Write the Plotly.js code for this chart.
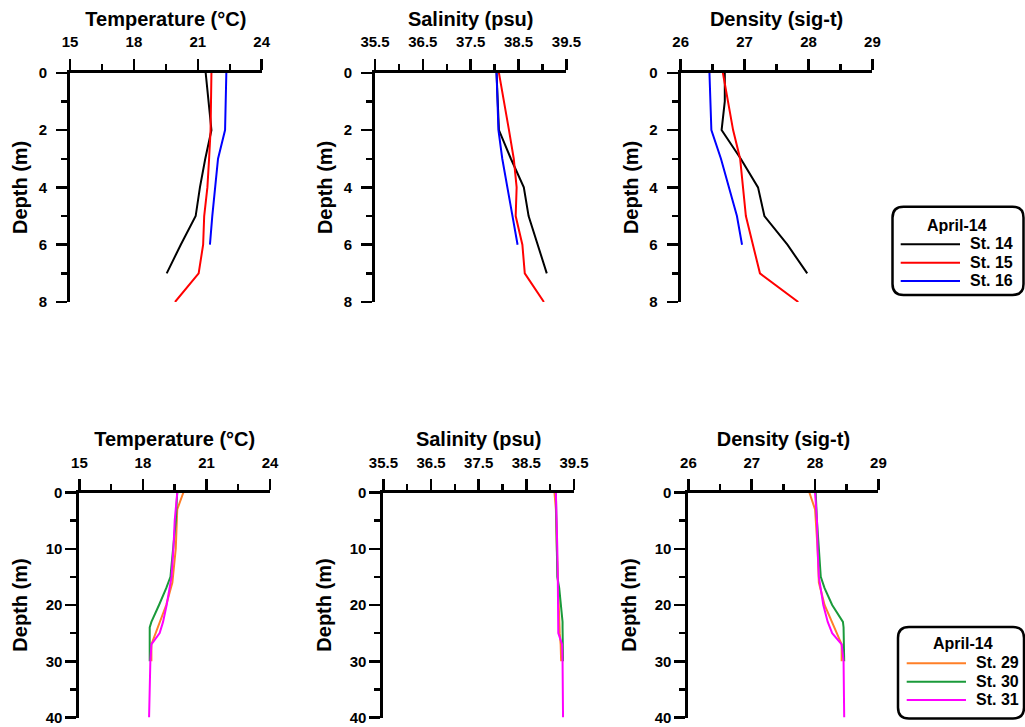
<!DOCTYPE html>
<html>
<head>
<meta charset="utf-8">
<script src="https://cdn.plot.ly/plotly-3.0.1.min.js"></script>
<style>html,body{margin:0;padding:0;background:#fff;}#chart{width:1025px;height:727px;}</style>
</head>
<body>
<div id="chart"></div>
<script>
// ---------- data ----------
const legendTitle = "April-14";
const topStations = ["St. 14", "St. 15", "St. 16"];
const bottomStations = ["St. 29", "St. 30", "St. 31"];

const depth14 = [0, 1, 2, 3, 4, 5, 6, 7];
const temp14 = [21.37, 21.5, 21.64, 21.35, 21.1, 20.9, 20.2, 19.54];
const sal14 = [38.04, 38.06, 38.09, 38.34, 38.61, 38.71, 38.9, 39.09];
const dens14 = [26.69, 26.69, 26.64, 26.94, 27.21, 27.31, 27.67, 27.98];

const depth15 = [0, 1, 2, 3, 4, 5, 6, 7, 8];
const temp15 = [21.64, 21.62, 21.6, 21.53, 21.45, 21.3, 21.25, 21.04, 19.93];
const sal15 = [38.09, 38.2, 38.3, 38.4, 38.46, 38.44, 38.58, 38.63, 39.03];
const dens15 = [26.66, 26.74, 26.82, 26.93, 26.98, 27.02, 27.13, 27.24, 27.84];

const depth16 = [0, 1, 2, 3, 4, 5, 6];
const temp16 = [22.34, 22.31, 22.28, 21.95, 21.8, 21.68, 21.57];
const sal16 = [38.04, 38.06, 38.08, 38.16, 38.27, 38.38, 38.48];
const dens16 = [26.45, 26.46, 26.48, 26.63, 26.76, 26.88, 26.96];

const depth29 = [0, 3, 10, 16, 20, 25, 27, 30];
const temp29 = [19.91, 19.62, 19.55, 19.39, 19.1, 18.6, 18.4, 18.4];
const sal29 = [39.09, 39.12, 39.14, 39.16, 39.18, 39.2, 39.22, 39.23];
const dens29 = [27.91, 28.0, 28.04, 28.06, 28.15, 28.34, 28.42, 28.42];

const depth30 = [0, 5, 15, 17, 20, 23, 24, 30];
const temp30 = [19.62, 19.55, 19.3, 19.1, 18.76, 18.4, 18.32, 18.32];
const sal30 = [39.12, 39.13, 39.15, 39.19, 39.23, 39.26, 39.26, 39.27];
const dens30 = [28.01, 28.03, 28.09, 28.15, 28.27, 28.44, 28.45, 28.46];

const depth31 = [0, 5, 10, 15, 20, 23, 25, 27, 30, 40];
const temp31 = [19.62, 19.5, 19.44, 19.35, 19.12, 18.95, 18.79, 18.4, 18.35, 18.29];
const sal31 = [39.12, 39.14, 39.15, 39.16, 39.17, 39.18, 39.17, 39.25, 39.26, 39.27];
const dens31 = [28.0, 28.03, 28.04, 28.06, 28.13, 28.2, 28.27, 28.42, 28.45, 28.46];

const xTitles = ["Temperature (°C)", "Salinity (psu)", "Density (sig-t)"];
const yTitle = "Depth (m)";

// ---------- styling ----------
const W = 1025, H = 727;
const FONT = "Liberation Sans, Arial, sans-serif";
const px = x => x / W;
const py = y => 1 - y / H;

const topColors = ["#000000", "#ff0000", "#0000ff"];
const botColors = ["#ff7f27", "#1a9a3a", "#ff00ff"];

const traces = [];
function addStation(name, color, depth, series, axesIdx) {
  series.forEach((vals, i) => {
    const n = axesIdx[i];
    traces.push({
      type: "scatter", mode: "lines", name: name,
      x: vals, y: depth,
      xaxis: "x" + (n === 1 ? "" : n), yaxis: "y" + (n === 1 ? "" : n),
      line: {color: color, width: 2},
      showlegend: false, hoverinfo: "x+y"
    });
  });
}
addStation(topStations[0], topColors[0], depth14, [temp14, sal14, dens14], [1, 2, 3]);
addStation(topStations[1], topColors[1], depth15, [temp15, sal15, dens15], [1, 2, 3]);
addStation(topStations[2], topColors[2], depth16, [temp16, sal16, dens16], [1, 2, 3]);
addStation(bottomStations[0], botColors[0], depth29, [temp29, sal29, dens29], [4, 5, 6]);
addStation(bottomStations[1], botColors[1], depth30, [temp30, sal30, dens30], [4, 5, 6]);
addStation(bottomStations[2], botColors[2], depth31, [temp31, sal31, dens31], [4, 5, 6]);

function xAxis(dom, range, tick0, dtick, title, anchor, lblOff, titleOff) {
  return {
    domain: [px(dom[0]), px(dom[1])], range: range, side: "top", anchor: anchor,
    tick0: tick0, dtick: dtick, ticks: "outside", ticklen: 11, tickwidth: 2.5, tickcolor: "#000",
    minor: {tick0: tick0, dtick: dtick / 2, ticks: "outside", ticklen: 6, tickwidth: 2.5, tickcolor: "#000", showgrid: false},
    showline: true, linewidth: 3, linecolor: "#000", showgrid: false, zeroline: false,
    tickfont: {family: FONT, size: 15, color: "#000", weight: "bold"},
    ticklabelstandoff: lblOff, ticklabeloverflow: "allow",
    title: {text: title, font: {family: FONT, size: 20, color: "#000", weight: "bold"}, standoff: titleOff},
    fixedrange: true
  };
}
function yAxis(dom, range, dtick, anchor, lblOff, titleOff) {
  return {
    domain: [py(dom[1]), py(dom[0])], range: range, anchor: anchor,
    tick0: 0, dtick: dtick, ticks: "outside", ticklen: 11, tickwidth: 2.5, tickcolor: "#000",
    minor: {tick0: 0, dtick: dtick / 2, ticks: "outside", ticklen: 6, tickwidth: 2.5, tickcolor: "#000", showgrid: false},
    showline: true, linewidth: 3, linecolor: "#000", showgrid: false, zeroline: false,
    tickfont: {family: FONT, size: 15, color: "#000", weight: "bold"},
    ticklabelstandoff: lblOff, ticklabeloverflow: "allow",
    title: {text: yTitle, font: {family: FONT, size: 20, color: "#000", weight: "bold"}, standoff: titleOff},
    fixedrange: true
  };
}

const topY = [72.8, 302];
const botY = [492.5, 717.5];

function roundedBox(x0, y0, x1, y1, r) {
  const X = v => px(v), Y = v => py(v);
  return {
    type: "path", xref: "paper", yref: "paper",
    path: `M ${X(x0 + r)} ${Y(y0)} L ${X(x1 - r)} ${Y(y0)} Q ${X(x1)} ${Y(y0)} ${X(x1)} ${Y(y0 + r)} ` +
          `L ${X(x1)} ${Y(y1 - r)} Q ${X(x1)} ${Y(y1)} ${X(x1 - r)} ${Y(y1)} ` +
          `L ${X(x0 + r)} ${Y(y1)} Q ${X(x0)} ${Y(y1)} ${X(x0)} ${Y(y1 - r)} ` +
          `L ${X(x0)} ${Y(y0 + r)} Q ${X(x0)} ${Y(y0)} ${X(x0 + r)} ${Y(y0)} Z`,
    line: {color: "#000", width: 2.5}, fillcolor: "rgba(0,0,0,0)"
  };
}

const shapes = [roundedBox(892.5, 206.7, 1023.5, 295, 11), roundedBox(898, 627, 1024, 718.5, 11)];
const annotations = [];
function addLegend(names, colors, titleX, titleY, lineX0, lineX1, textX, rowY) {
  annotations.push({xref: "paper", yref: "paper", x: px(titleX), y: py(titleY), xanchor: "center", yanchor: "middle",
    text: legendTitle, showarrow: false, font: {family: FONT, size: 16, color: "#000", weight: "bold"}});
  names.forEach((nm, i) => {
    const yy = rowY[i];
    shapes.push({type: "line", xref: "paper", yref: "paper", x0: px(lineX0), x1: px(lineX1), y0: py(yy), y1: py(yy),
      line: {color: colors[i], width: 2}});
    annotations.push({xref: "paper", yref: "paper", x: px(textX), y: py(yy - 0.5), xanchor: "left", yanchor: "middle",
      text: nm, showarrow: false, font: {family: FONT, size: 16, color: "#000", weight: "bold"}});
  });
}
addLegend(topStations, topColors, 957, 225, 900.7, 960, 968, [244.3, 262.7, 281]);
addLegend(bottomStations, botColors, 963, 643, 906.7, 966, 974, [663.3, 681.7, 700]);

const layout = {
  width: W, height: H,
  margin: {l: 0, r: 0, t: 0, b: 0},
  paper_bgcolor: "#fff", plot_bgcolor: "#fff",
  font: {family: FONT, color: "#000"},
  showlegend: false,
  xaxis: xAxis([70, 261.7], [15, 24], 15, 3, xTitles[0], "y", 6, 1),
  yaxis: yAxis(topY, [8, 0], 2, "x", 6, 6),
  xaxis2: xAxis([375, 566.4], [35.5, 39.5], 35.5, 1, xTitles[1], "y2", 6, 1),
  yaxis2: yAxis(topY, [8, 0], 2, "x2", 6, 6),
  xaxis3: xAxis([680.7, 872.4], [26, 29], 26, 1, xTitles[2], "y3", 6, 1),
  yaxis3: yAxis(topY, [8, 0], 2, "x3", 6, 6),
  xaxis4: xAxis([79.4, 270], [15, 24], 15, 3, xTitles[0], "y4", 5, 2),
  yaxis4: yAxis(botY, [40, 0], 10, "x4", 0, 13),
  xaxis5: xAxis([383.4, 574], [35.5, 39.5], 35.5, 1, xTitles[1], "y5", 5, 2),
  yaxis5: yAxis(botY, [40, 0], 10, "x5", 0, 13),
  xaxis6: xAxis([688.4, 878.4], [26, 29], 26, 1, xTitles[2], "y6", 5, 2),
  yaxis6: yAxis(botY, [40, 0], 10, "x6", 0, 13),
  shapes: shapes,
  annotations: annotations
};

Plotly.newPlot("chart", traces, layout, {staticPlot: true, displayModeBar: false});
</script>
</body>
</html>
